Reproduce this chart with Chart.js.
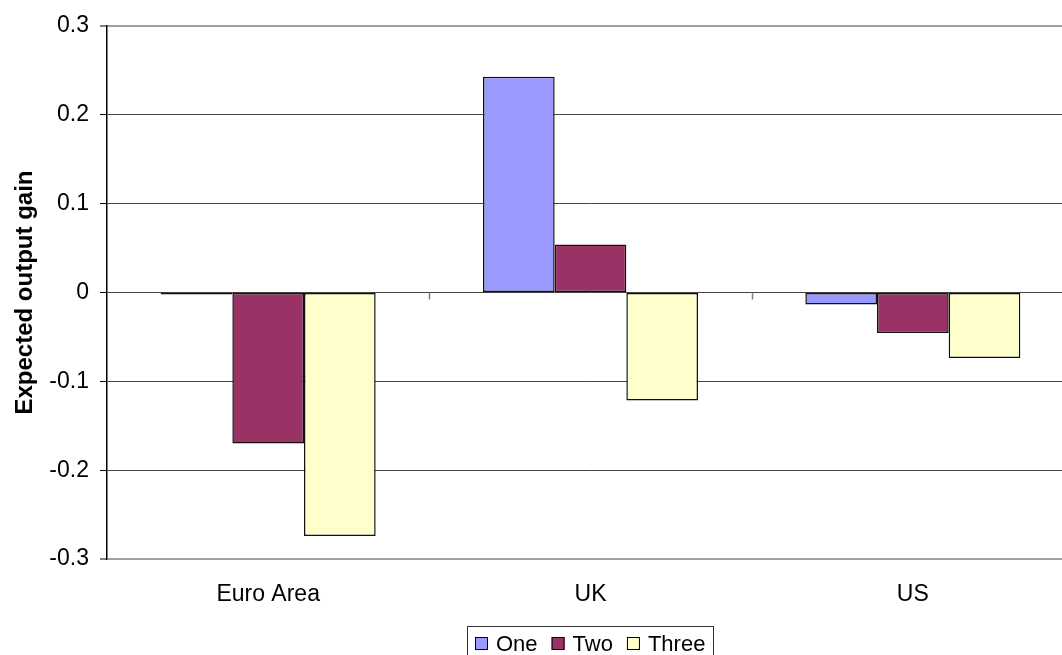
<!DOCTYPE html>
<html>
<head>
<meta charset="utf-8">
<script src="https://cdn.jsdelivr.net/npm/chart.js@4"></script>
<style>
  html, body { margin: 0; padding: 0; background: #ffffff; overflow: hidden; width: 1062px; height: 655px; }
  canvas { display: block; }
</style>
</head>
<body>
<canvas id="c" width="1080" height="655"></canvas>
<script>
const categories = ['Euro Area', 'UK', 'US'];
const seriesNames = ['One', 'Two', 'Three'];
const seriesOne = [-0.0005, 0.243, -0.0135];
const seriesTwo = [-0.170, 0.054, -0.0455];
const seriesThree = [-0.274, -0.1215, -0.0738];
const seriesColors = ['#9999FF', '#993366', '#FFFFCC'];
const yMin = -0.3, yMax = 0.3, yStep = 0.1;
const yTitle = 'Expected output gain';

const FONT = "'Liberation Sans', Arial, sans-serif";

const zeroTicks = {
  id: 'zeroTicks',
  afterDatasetsDraw(chart) {
    const xs = chart.scales.x, ys = chart.scales.y;
    const ctx = chart.ctx;
    const y0 = ys.getPixelForValue(0);
    const half = (xs.getPixelForValue(1) - xs.getPixelForValue(0)) / 2;
    ctx.save();
    ctx.strokeStyle = '#808080';
    ctx.lineWidth = 1.5;
    for (let i = 1; i < categories.length; i++) {
      const bx = Math.round(xs.getPixelForValue(i) - half) + 0.5;
      ctx.beginPath();
      ctx.moveTo(bx, y0);
      ctx.lineTo(bx, y0 + 7);
      ctx.stroke();
    }
    ctx.restore();
  }
};

const boxLegend = {
  id: 'boxLegend',
  afterDraw(chart) {
    const ctx = chart.ctx;
    const area = chart.chartArea;
    ctx.save();
    ctx.font = '22px ' + FONT;
    const pad = 8, mark = 13, gap = 8, itemGap = 14;
    const items = chart.data.datasets.map(d => ({ label: d.label, color: d.backgroundColor, w: ctx.measureText(d.label).width }));
    let total = pad * 2;
    items.forEach((it, i) => { total += mark + gap + it.w + (i < items.length - 1 ? itemGap : 0); });
    const cx = (area.left + area.right) / 2;
    const left = Math.round(cx - total / 2);
    const top = 626;
    ctx.fillStyle = '#ffffff';
    ctx.fillRect(left, top, total, 40);
    ctx.strokeStyle = '#333333';
    ctx.lineWidth = 1;
    ctx.strokeRect(left + 0.5, top + 0.5, Math.round(total), 40);
    let x = left + pad;
    const midY = 644;
    ctx.textBaseline = 'middle';
    ctx.textAlign = 'left';
    items.forEach(it => {
      ctx.fillStyle = it.color;
      ctx.fillRect(x, midY - 7, mark, mark);
      ctx.strokeStyle = '#000000';
      ctx.strokeRect(x + 0.5, midY - 7 + 0.5, mark - 1, mark - 1);
      x += mark + gap;
      ctx.fillStyle = '#000000';
      ctx.fillText(it.label, x, midY + 1);
      x += it.w + itemGap;
    });
    ctx.restore();
  }
};

const seriesData = [seriesOne, seriesTwo, seriesThree];

new Chart(document.getElementById('c'), {
  type: 'bar',
  data: {
    labels: categories,
    datasets: seriesNames.map((name, i) => ({
      label: name,
      data: seriesData[i],
      backgroundColor: seriesColors[i],
      borderColor: '#111111',
      borderWidth: 1.5,
      borderSkipped: false,
      minBarLength: 2,
      categoryPercentage: 0.667,
      barPercentage: 1.0
    }))
  },
  options: {
    responsive: false,
    devicePixelRatio: 1,
    animation: false,
    layout: { padding: { top: 26, right: 6, left: 0, bottom: 0 } },
    plugins: {
      legend: { display: false },
      tooltip: { enabled: false }
    },
    scales: {
      x: {
        offset: true,
        grid: { display: false, drawTicks: false },
        border: { display: false },
        ticks: { color: '#000000', font: { family: FONT, size: 23 }, padding: 22, maxRotation: 0 },
        afterFit(scale) { scale.height = 96; }
      },
      y: {
        min: yMin,
        max: yMax,
        ticks: {
          stepSize: yStep,
          color: '#000000',
          padding: 11,
          font: { family: FONT, size: 23 },
          callback: v => String(Math.round(v * 10) / 10)
        },
        grid: {
          color: c => (Math.abs(Math.abs(c.tick.value) - 0.3) < 1e-6 ? '#a0a0a0' : '#444444'),
          lineWidth: c => (Math.abs(Math.abs(c.tick.value) - 0.3) < 1e-6 ? 2 : 1),
          tickColor: '#000000',
          tickLength: 7,
          tickWidth: 1
        },
        border: { display: true, color: '#000000', width: 1.5 },
        title: {
          display: true,
          text: yTitle,
          color: '#000000',
          font: { family: FONT, size: 24, weight: 'bold' },
          padding: 11
        },
        afterFit(scale) { scale.width = 107; }
      }
    }
  },
  plugins: [zeroTicks, boxLegend]
});
</script>
</body>
</html>
